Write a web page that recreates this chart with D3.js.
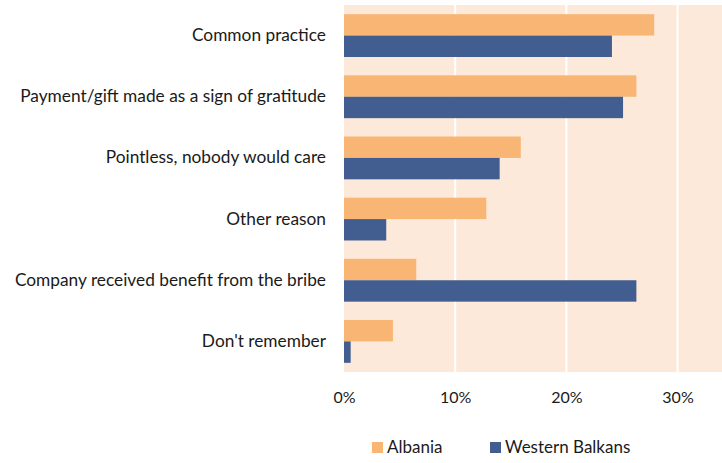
<!DOCTYPE html>
<html><head><meta charset="utf-8">
<script src="https://cdn.jsdelivr.net/npm/d3@7"></script>
<style>body{margin:0;background:#fff}svg{display:block}text{font-family:Lato,"Open Sans",sans-serif;fill:#1a1a1a}</style>
</head><body><svg id="c" width="722" height="463"></svg>
<script>
const categories = ["Common practice","Payment/gift made as a sign of gratitude","Pointless, nobody would care","Other reason","Company received benefit from the bribe","Don't remember"];
const albania = [0.279, 0.263, 0.159, 0.128, 0.065, 0.044];
const westernBalkans = [0.241, 0.251, 0.140, 0.038, 0.263, 0.006];
const seriesNames = ["Albania","Western Balkans"];
const tickValues = [0, 0.1, 0.2, 0.3];
const colors = ["#F8B574","#425D8F"];

const svg = d3.select("#c");
const m = {left:344, right:722, top:5, bottom:372};
const x = d3.scaleLinear().domain([0, 0.34]).range([m.left, m.right]);
const y = d3.scaleBand().domain(categories).range([m.top, m.bottom]).paddingInner(0.3).paddingOuter(0.15);
const ys = d3.scaleBand().domain(seriesNames).range([0, y.bandwidth()]);

svg.append("rect").attr("x", m.left).attr("y", m.top).attr("width", m.right-m.left).attr("height", m.bottom-m.top).attr("fill","#FDE9DA");
svg.append("g").selectAll("line").data(tickValues.filter(d=>d>0)).join("line")
  .attr("x1", d=>x(d)).attr("x2", d=>x(d)).attr("y1", m.top).attr("y2", m.bottom)
  .attr("stroke","#fff").attr("stroke-width",2);

const data = [albania, westernBalkans];
data.forEach((vals, si) => {
  svg.append("g").selectAll("rect").data(vals).join("rect")
    .attr("x", x(0)).attr("y", (d,i)=>y(categories[i]) + ys(seriesNames[si]))
    .attr("width", d=>x(d)-x(0)).attr("height", ys.bandwidth())
    .attr("fill", colors[si]);
});

const xAxis = d3.axisBottom(x).tickValues(tickValues).tickFormat(d3.format(".0%")).tickSize(0).tickPadding(0);
const gx = svg.append("g").attr("transform", `translate(0,${m.bottom})`).call(xAxis);
gx.select(".domain").remove();
gx.selectAll("text").attr("y", 31).attr("dy", 0).style("font-size","16px").style("fill","#1a1a1a");

const yAxis = d3.axisLeft(y).tickSize(0).tickPadding(18);
const gy = svg.append("g").attr("transform", `translate(${m.left},0)`).call(yAxis);
gy.select(".domain").remove();
gy.selectAll("text").style("font-size","17.3px").style("fill","#1a1a1a");

const leg = svg.append("g");
const legX = [372, 490];
seriesNames.forEach((n,i)=>{
  leg.append("rect").attr("x", legX[i]).attr("y", 442).attr("width", 11).attr("height", 11).attr("fill", colors[i]);
  leg.append("text").attr("x", legX[i]+15).attr("y", 453).text(n).style("font-size","17px");
});
</script></body></html>
